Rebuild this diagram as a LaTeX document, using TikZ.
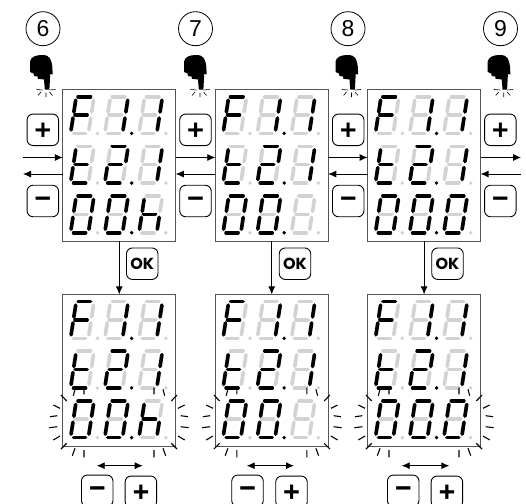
\documentclass[tikz,border=0pt]{standalone}
\usepackage{fontspec}
\setmainfont{Liberation Sans}
\newfontfamily\okfont{Poppins}
\newfontfamily\keyfont[FakeBold=2]{DejaVu Sans Bold}
\usetikzlibrary{arrows.meta}
\definecolor{seggray}{HTML}{D2D2D2}
\definecolor{boxline}{HTML}{555555}
\tikzset{
  lcdbox/.style={draw=boxline,line width=1pt,fill=white,minimum width=113pt,inner sep=0pt,outer sep=0pt},
  keybtn/.style={draw=black,line width=0.9pt,rounded corners=6pt,minimum width=31.5pt,minimum height=31.5pt,inner sep=0pt,fill=white},
  signbtn/.style={keybtn,font=\keyfont\fontsize{22pt}{22pt}\selectfont},
  steplabel/.style={draw=black,line width=0.8pt,circle,minimum size=34pt,inner sep=0pt,font=\fontsize{23pt}{23pt}\selectfont},
  segon/.style={black,line width=3.6pt,line cap=round},
  segoff/.style={seggray,line width=3.6pt,line cap=round},
  conn/.style={draw=black,line width=0.9pt,-{Latex[length=8pt,width=7pt]}},
  dconn/.style={draw=black,line width=0.9pt,{Latex[length=8pt,width=7pt]}-{Latex[length=8pt,width=7pt]}},
  ray/.style={black,line width=1.1pt},
}
\def\sega{(7.5,0) -- (20,0)}
\def\segb{(22.95,3.5) -- (21.12,15.3)}
\def\segc{(20.2,21.3) -- (18.35,33.2)}
\def\segd{(3,36.7) -- (15,36.7)}
\def\sege{(2.4,21.3) -- (0.55,33.2)}
\def\segf{(5.15,3.5) -- (3.32,15.3)}
\def\segg{(4.5,18.3) -- (16.5,18.3)}
\def\segn{}
\newcommand{\segpath}[1]{\csname seg#1\endcsname}
% digit: x, y, list of lit segments
\newcommand{\lcddigit}[3]{%
  \begin{scope}[shift={(#1,#2)}]
    \foreach \s in {a,b,c,d,e,f,g} {\draw[segoff] \segpath{\s};}
    \foreach \s in {#3} {\draw[segon] \segpath{\s};}
  \end{scope}}
% contents of a display: left x, top y, third digit of last row
\newcommand{\lcdcontent}[3]{%
  \begin{scope}[shift={(#1,#2)}]
    \lcddigit{7.8}{7.2}{a,e,f,g}\lcddigit{42}{7.2}{b,c}\lcddigit{76.2}{7.2}{b,c}
    \lcddigit{7.8}{56.8}{d,e,f,g}\lcddigit{42}{56.8}{a,b,d,e,g}\lcddigit{76.2}{56.8}{b,c}
    \lcddigit{7.8}{106.5}{a,b,c,d,e,f}\lcddigit{42}{106.5}{a,b,c,d,e,f}\lcddigit{76.2}{106.5}{#3}
    \foreach \ry in {43.9,93.5,143.2} {
      \fill[seggray] (34.7,\ry) circle (1.9);
      \fill[black] (68.9,\ry) circle (1.9);
      \fill[seggray] (103.1,\ry) circle (1.9);
    }
  \end{scope}}
% hand icon at centre x
\newcommand{\handicon}[1]{%
  \begin{scope}[shift={(#1,0)}]
    \fill[black] (-13,72) -- (-13,61.7) .. controls (-12.5,57) and (-7,55) .. (-1.3,55)
      .. controls (3,55) and (6,56) .. (7,58.3) .. controls (8.5,61) and (9,64) .. (9.3,66.7)
      -- (9.7,74.5) -- (7.2,74) -- (6.4,89.5) -- (1.8,89.5) -- (1,79.5) -- (-5,78.8) -- (-5.5,76.5) -- (-9,76) -- (-9.5,73.5) -- cycle;
    \draw[black,line width=0.6pt] (-6.5,89.5) -- (-0.5,90) (6.5,90) -- (12.5,89.5)
      (-2,92) -- (-5,95.5) (6.5,92) -- (9.5,95.5) (3,92.5) -- (3,97);
  \end{scope}}
% flash rays around the last row, centre x
\newcommand{\flashrays}[1]{%
  \begin{scope}[shift={(#1,0)}]
    \foreach \m in {-1,1} {
      \draw[ray,xscale=\m]
        (65.7,405) -- (59,408.3) (69,416.7) -- (61.7,415.7)
        (69.7,427.7) -- (61.7,426.7) (65.7,440) -- (59,436)
        (58,395) -- (52.3,401) (58,449) -- (52.3,443.3)
        (45.7,395.7) -- (44,389.3) (35,387.7) -- (35,394.3)
        (46.7,455.7) -- (44,448.3) (35,450) -- (35,457.3);
    }
  \end{scope}}
\begin{document}
\begin{tikzpicture}[x=1pt,y=-1pt]
\useasboundingbox (0,0) rectangle (526,503);
% step circles
\node[steplabel] (s6) at (43,28.7) {6};
\node[steplabel] (s7) at (195.5,28.7) {7};
\node[steplabel] (s8) at (348,28.7) {8};
\node[steplabel] (s9) at (500.5,28.7) {9};
\handicon{43}\handicon{197}\handicon{348.5}\handicon{500.7}
% upper displays
\node[lcdbox,minimum height=151.5pt] (b6) at (119.25,165.25) {};
\node[lcdbox,minimum height=151.5pt] (b7) at (271.75,165.25) {};
\node[lcdbox,minimum height=151.5pt] (b8) at (424.1,165.25) {};
% lower displays
\node[lcdbox,minimum height=152.3pt] (l6) at (119.25,370.55) {};
\node[lcdbox,minimum height=152.3pt] (l7) at (271.75,370.55) {};
\node[lcdbox,minimum height=152.3pt] (l8) at (424.1,370.55) {};
\lcdcontent{62.75}{89.5}{c,e,f,g}
\lcdcontent{215.25}{89.5}{n}
\lcdcontent{367.6}{89.5}{a,b,c,d,e,f}
\lcdcontent{62.75}{294.4}{c,e,f,g}
\lcdcontent{215.25}{294.4}{n}
\lcdcontent{367.6}{294.4}{a,b,c,d,e,f}
\flashrays{119}\flashrays{271.9}\flashrays{424}
% keys
\foreach \n/\x in {6/42.8,7/195.5,8/348.2,9/500.3} {
  \node[signbtn] (plus\n) at (\x,129.8) {+};
  \node[signbtn] (minus\n) at (\x,201) {−};
}
\foreach \n/\x in {6/142.2,7/295,8/447.5} {
  \node[keybtn,font=\okfont\fontsize{16pt}{16pt}\selectfont\bfseries] (ok\n) at (\x,263.7) {OK};
}
\foreach \n/\xm/\xp in {6/97.2/140.9,7/247.5/291.5,8/403.2/446.9} {
  \node[signbtn] (lm\n) at (\xm,490.8) {−};
  \node[signbtn] (lp\n) at (\xp,491.8) {+};
}
% connectors
\coordinate (ur) at (0,157.5);
\coordinate (ul) at (0,174);
\coordinate (inr) at (23,157.5);
\coordinate (inl) at (23,174);
\coordinate (outr) at (521,157.5);
\coordinate (outl) at (521,174);
\draw[conn] (inr) -- (b6.west |- ur);
\draw[conn] (b6.west |- ul) -- (inl);
\draw[conn] (b6.east |- ur) -- (b7.west |- ur);
\draw[conn] (b7.west |- ul) -- (b6.east |- ul);
\draw[conn] (b7.east |- ur) -- (b8.west |- ur);
\draw[conn] (b8.west |- ul) -- (b7.east |- ul);
\draw[conn] (b8.east |- ur) -- (outr);
\draw[conn] (outl) -- (b8.east |- ul);
\draw[conn] (b6.south) -- (l6.north);
\draw[conn] (b7.south) -- (l7.north);
\draw[conn] (b8.south) -- (l8.north);
\foreach \n/\xa/\xb in {6/96.7/142.7,7/246.7/294,8/401.7/449.3} {
  \coordinate (da\n) at (\xa,465.7);
  \coordinate (db\n) at (\xb,465.7);
  \draw[dconn] (da\n) -- (db\n);
}
\end{tikzpicture}
\end{document}
